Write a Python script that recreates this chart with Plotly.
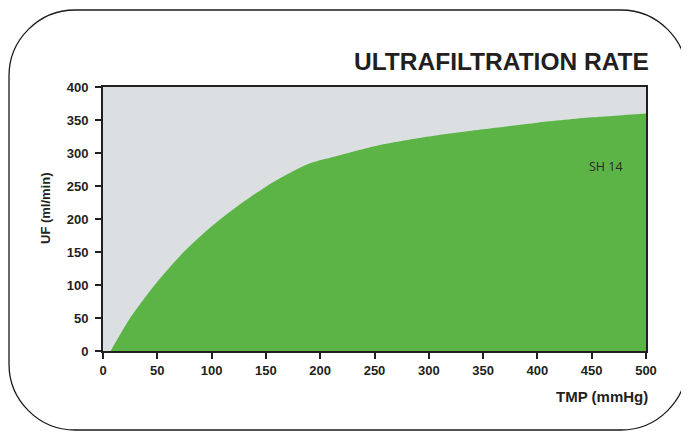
import plotly.graph_objects as go

# Data
tmp_mmhg = [7, 25, 50, 75, 100, 125, 150, 170, 190, 210, 255, 300, 350, 400, 450, 500]
uf_ml_min = [0, 50, 105, 151, 189, 221, 249, 268, 284, 293, 312, 325, 336, 346, 354, 360]
x_ticks = [0, 50, 100, 150, 200, 250, 300, 350, 400, 450, 500]
y_ticks = [0, 50, 100, 150, 200, 250, 300, 350, 400]
series_label = "SH 14"
label_pos = (463, 279)

OFF = 8  # page body margin
W, H = 689 - OFF, 433 - OFF
ML, MR, MT, MB = 103 - OFF, 43, 87 - OFF, 82
PW, PH = W - ML - MR, H - MT - MB

def px(x):
    return (x - OFF - ML) / PW

def py(y):
    return (H - MB - (y - OFF)) / PH

fig = go.Figure()
fig.add_trace(go.Scatter(
    x=tmp_mmhg, y=uf_ml_min, mode="lines", fill="tozeroy",
    line=dict(width=0, color="#5cb447", shape="spline", smoothing=0.7),
    fillcolor="#5cb447", hoverinfo="skip", showlegend=False))

fig.add_annotation(x=label_pos[0], y=label_pos[1], text=series_label, showarrow=False,
                   font=dict(family="Open Sans", size=12.5, color="#2a2a2a"))

# rounded border (window pixel coordinates)
L, R, T, B, r = 9, 687, 10, 430, 66
k = 0.45
path = (f"M {px(L+r)},{py(T)} L {px(R-r)},{py(T)} "
        f"C {px(R-r*k)},{py(T)} {px(R)},{py(T+r*k)} {px(R)},{py(T+r)} "
        f"L {px(R)},{py(B-r)} "
        f"C {px(R)},{py(B-r*k)} {px(R-r*k)},{py(B)} {px(R-r)},{py(B)} "
        f"L {px(L+r)},{py(B)} "
        f"C {px(L+r*k)},{py(B)} {px(L)},{py(B-r*k)} {px(L)},{py(B-r)} "
        f"L {px(L)},{py(T+r)} "
        f"C {px(L)},{py(T+r*k)} {px(L+r*k)},{py(T)} {px(L+r)},{py(T)} Z")
fig.add_shape(type="path", path=path, xref="paper", yref="paper",
              line=dict(color="#1a1a1a", width=1.3), layer="below")

axis_color = "#231f20"
fig.update_layout(
    width=W, height=H,
    margin=dict(l=ML, r=MR, t=MT, b=MB),
    paper_bgcolor="white", plot_bgcolor="#dcdfe2",
    font=dict(family="Liberation Sans", color="#231f20"),
    annotations=list(fig.layout.annotations) + [
        dict(text="<b>ULTRAFILTRATION RATE</b>", xref="paper", yref="paper",
             x=px(651), y=py(62), xanchor="right", yanchor="middle", showarrow=False,
             font=dict(size=24.5, color="#231f20")),
        dict(text="<b>TMP (mmHg)</b>", xref="paper", yref="paper",
             x=px(650), y=py(396), xanchor="right", yanchor="middle", showarrow=False,
             font=dict(size=15, color="#231f20")),
        dict(text="<b>UF (ml/min)</b>", xref="paper", yref="paper", textangle=-90,
             x=px(45), y=py(208), xanchor="center", yanchor="middle", showarrow=False,
             font=dict(size=13, color="#231f20")),
    ],
)
fig.update_xaxes(range=[0, 500], tickvals=x_ticks, showgrid=False, zeroline=False,
                 showline=True, linecolor=axis_color, linewidth=2, mirror=True,
                 ticks="outside", ticklen=6, tickwidth=1.5, tickcolor=axis_color,
                 tickfont=dict(size=13, family="Liberation Sans", weight="bold"))
fig.update_yaxes(range=[0, 400], tickvals=y_ticks, showgrid=False, zeroline=False,
                 showline=True, linecolor=axis_color, linewidth=2, mirror=True,
                 ticks="outside", ticklen=6, tickwidth=1.5, tickcolor=axis_color,
                 ticklabelstandoff=4,
                 tickfont=dict(size=13, family="Liberation Sans", weight="bold"))

fig.write_html("out.html")
